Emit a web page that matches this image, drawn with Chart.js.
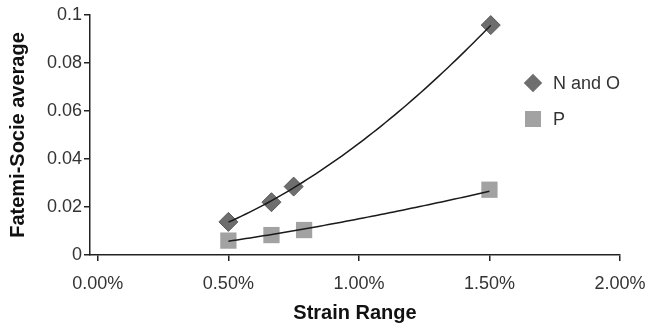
<!DOCTYPE html>
<html>
<head>
<meta charset="utf-8">
<script src="https://cdn.jsdelivr.net/npm/chart.js@4/dist/chart.umd.min.js"></script>
<style>
html, body { margin: 0; padding: 0; background: #fff; }
#wrap { position: relative; width: 651px; height: 326px; }
#legend { position: absolute; left: 522px; top: 70px; font: 18px "Liberation Sans", Arial, sans-serif; color: #333; }
#legend div { height: 36px; line-height: 26px; position: relative; padding-left: 31px; }
#legend span.mk { position: absolute; left: 3px; top: 5px; width: 16px; height: 16px; }
</style>
</head>
<body>
<div id="wrap">
<canvas id="chart" width="651" height="326"></canvas>
<div id="legend"></div>
</div>
<script>
// strain range in percent
const strainNO = [0.5, 0.665, 0.75, 1.505];
const fsNO = [0.0138, 0.022, 0.0285, 0.0958];

const strainP = [0.5, 0.665, 0.79, 1.5];
const fsP = [0.006, 0.0083, 0.0104, 0.0272];

const seriesNames = ["N and O", "P"];
const xTicks = [0, 0.5, 1.0, 1.5, 2.0];
const yTicks = [0, 0.02, 0.04, 0.06, 0.08, 0.1];

const colNO = "#6e6e6e";
const colP = "#a2a2a2";
const txt = "#333";

const pts = (xs, ys) => xs.map((x, i) => ({ x: x, y: ys[i] }));

// power trendline (least squares in log-log), like the spreadsheet one
function powerFit(xs, ys) {
  const n = xs.length;
  let sx = 0, sy = 0, sxx = 0, sxy = 0;
  for (let i = 0; i < n; i++) {
    const lx = Math.log(xs[i]), ly = Math.log(ys[i]);
    sx += lx; sy += ly; sxx += lx * lx; sxy += lx * ly;
  }
  const b = (n * sxy - sx * sy) / (n * sxx - sx * sx);
  const a = Math.exp((sy - b * sx) / n);
  return x => a * Math.pow(x, b);
}

const trendPlugin = {
  id: "trend",
  afterDatasetsDraw(chart) {
    const ctx = chart.ctx, xs = chart.scales.x, ys = chart.scales.y;
    chart.data.datasets.forEach(ds => {
      const px = ds.data.map(p => p.x), py = ds.data.map(p => p.y);
      const f = powerFit(px, py);
      const x0 = Math.min(...px), x1 = Math.max(...px);
      ctx.save();
      ctx.beginPath();
      for (let k = 0; k <= 60; k++) {
        const x = x0 + (x1 - x0) * k / 60;
        const X = xs.getPixelForValue(x), Y = ys.getPixelForValue(f(x));
        if (k === 0) ctx.moveTo(X, Y); else ctx.lineTo(X, Y);
      }
      ctx.strokeStyle = "#1a1a1a";
      ctx.lineWidth = 1.5;
      ctx.stroke();
      ctx.restore();
    });
  }
};

new Chart(document.getElementById("chart"), {
  type: "scatter",
  data: {
    datasets: [
      {
        label: seriesNames[0],
        data: pts(strainNO, fsNO),
        pointStyle: "rectRot",
        pointRadius: 9.5,
        backgroundColor: colNO,
        borderColor: "#5a5a5a",
        borderWidth: 1
      },
      {
        label: seriesNames[1],
        data: pts(strainP, fsP),
        pointStyle: "rect",
        pointRadius: 11.5,
        backgroundColor: colP,
        borderColor: colP,
        borderWidth: 0
      }
    ]
  },
  plugins: [trendPlugin],
  options: {
    responsive: false,
    animation: false,
    layout: { padding: { left: 2, right: 31, top: 15, bottom: 0 } },
    plugins: { legend: { display: false }, tooltip: { enabled: false } },
    scales: {
      x: {
        type: "linear",
        min: -0.03,
        max: 2.0,
        afterBuildTicks: s => { s.ticks = xTicks.map(v => ({ value: v })); },
        afterFit: s => { s.height = 71; s.paddingLeft = 0; s.paddingRight = 0; },
        border: { color: "#222", width: 1.5 },
        grid: { drawOnChartArea: false, drawTicks: true, tickLength: 6, color: "#222", lineWidth: 1.5 },
        ticks: {
          color: txt,
          padding: 12,
          maxRotation: 0,
          font: { family: "'Liberation Sans', Arial, sans-serif", size: 18 },
          callback: v => v.toFixed(2) + "%"
        },
        title: {
          display: true,
          text: "Strain Range",
          color: "#111",
          font: { family: "'Liberation Sans', Arial, sans-serif", size: 20, weight: "bold" },
          padding: { top: 0, bottom: 1 }
        }
      },
      y: {
        min: 0,
        max: 0.1,
        afterBuildTicks: s => { s.ticks = yTicks.map(v => ({ value: v })); },
        afterFit: s => { s.width = 88; },
        border: { color: "#222", width: 1.5 },
        grid: { drawOnChartArea: false, drawTicks: true, tickLength: 6, color: "#222", lineWidth: 1.5 },
        ticks: {
          color: txt,
          padding: 2,
          font: { family: "'Liberation Sans', Arial, sans-serif", size: 18 },
          callback: v => String(Math.round(v * 100) / 100)
        },
        title: {
          display: true,
          text: "Fatemi-Socie average",
          color: "#111",
          font: { family: "'Liberation Sans', Arial, sans-serif", size: 20, weight: "bold" },
          padding: { top: 4, bottom: 4 }
        }
      }
    }
  }
});

// legend, like the original one inside the plot
const leg = document.getElementById("legend");
[[seriesNames[0], colNO, true], [seriesNames[1], colP, false]].forEach(([name, c, diamond]) => {
  const row = document.createElement("div");
  const mk = document.createElement("span");
  mk.className = "mk";
  mk.style.background = c;
  if (diamond) { mk.style.transform = "rotate(45deg) scale(0.82)"; }
  row.appendChild(mk);
  row.appendChild(document.createTextNode(name));
  leg.appendChild(row);
});
</script>
</body>
</html>
